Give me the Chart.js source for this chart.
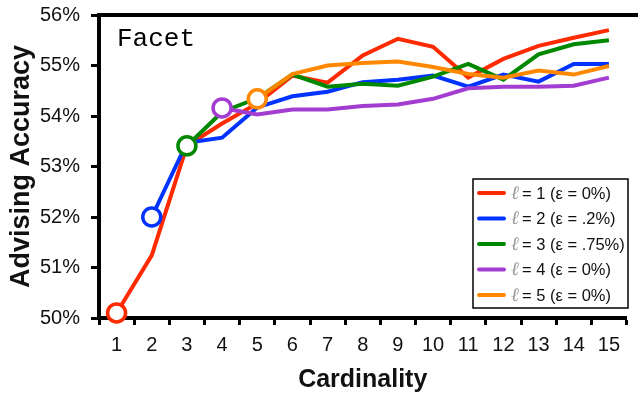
<!DOCTYPE html>
<html>
<head>
<meta charset="utf-8">
<script src="https://cdn.jsdelivr.net/npm/chart.js@4"></script>
<style>
  body { margin: 0; background: #fff; }
  #wrap { width: 639px; height: 397px; position: relative; }
</style>
</head>
<body>
<div id="wrap"><canvas id="chart"></canvas></div>
<script>
const categories = ['1','2','3','4','5','6','7','8','9','10','11','12','13','14','15'];
const yTicks = [50, 51, 52, 53, 54, 55, 56];
const seriesNames = ['ℓ = 1 (ε = 0%)', 'ℓ = 2 (ε = .2%)', 'ℓ = 3 (ε = .75%)', 'ℓ = 4 (ε = 0%)', 'ℓ = 5 (ε = 0%)'];
const l1 = [50.1, 51.24, 53.41, 53.85, 54.25, 54.8, 54.66, 55.2, 55.53, 55.37, 54.76, 55.13, 55.39, 55.55, 55.7];
const l2 = [null, 52.0, 53.47, 53.57, 54.17, 54.39, 54.48, 54.67, 54.72, 54.8, 54.58, 54.82, 54.68, 55.03, 55.03];
const l3 = [null, null, 53.41, 54.08, 54.35, 54.82, 54.58, 54.64, 54.6, 54.78, 55.03, 54.72, 55.22, 55.42, 55.5];
const l4 = [null, null, null, 54.16, 54.03, 54.13, 54.13, 54.2, 54.23, 54.34, 54.55, 54.58, 54.58, 54.6, 54.76];
const l5 = [null, null, null, null, 54.34, 54.83, 55.0, 55.05, 55.08, 54.97, 54.83, 54.76, 54.9, 54.82, 54.99];

const colors = ['#ff2a00', '#0033ff', '#008800', '#a33cd0', '#ff8800'];
const allSeries = [l1, l2, l3, l4, l5];

// only the first point of each series gets an open circle
function firstPointRadius(data) {
    const first = data.findIndex(v => v !== null);
    return data.map((v, i) => i === first ? 9 : 0);
}

const datasets = allSeries.map((data, i) => ({
    label: seriesNames[i],
    data: data,
    borderColor: colors[i],
    backgroundColor: '#fff',
    borderWidth: 4,
    pointRadius: firstPointRadius(data),
    pointHoverRadius: firstPointRadius(data),
    pointBorderWidth: 3.5,
    pointBackgroundColor: '#fff',
    pointBorderColor: colors[i],
    tension: 0,
    clip: false,
    order: 5 - i
}));

const frameAndLegend = {
    id: 'frameAndLegend',
    afterDraw(chart) {
        const ctx = chart.ctx;
        const area = chart.chartArea;
        ctx.save();
        // top frame line
        ctx.strokeStyle = '#000';
        ctx.lineWidth = 4;
        ctx.beginPath();
        ctx.moveTo(area.left - 2, area.top);
        ctx.lineTo(638, area.top);
        ctx.stroke();

        // "Facet" label
        ctx.fillStyle = '#000';
        ctx.font = '26px "Liberation Mono", monospace';
        ctx.textBaseline = 'alphabetic';
        ctx.textAlign = 'left';
        ctx.fillText('Facet', 117, 46);

        // legend box
        const bx = 473, by = 179, bw = 155, bh = 129;
        ctx.fillStyle = '#fff';
        ctx.fillRect(bx, by, bw, bh);
        ctx.lineWidth = 1.5;
        ctx.strokeStyle = '#000';
        ctx.strokeRect(bx, by, bw, bh);
        chart.data.datasets.forEach((ds, i) => {
            const y = 193 + i * 25.5;
            ctx.strokeStyle = ds.borderColor;
            ctx.lineWidth = 4;
            ctx.lineCap = 'round';
            ctx.beginPath();
            ctx.moveTo(479, y);
            ctx.lineTo(504, y);
            ctx.stroke();
            ctx.textBaseline = 'middle';
            ctx.fillStyle = '#999';
            ctx.font = 'italic 19px "DejaVu Serif", serif';
            ctx.fillText(ds.label.charAt(0), 511, y + 1);
            ctx.fillStyle = '#111';
            ctx.font = '16.5px "Liberation Sans", Arial, sans-serif';
            ctx.fillText(ds.label.slice(1).trim(), 522, y + 1);
        });
        ctx.restore();
    }
};

new Chart(document.getElementById('chart'), {
    type: 'line',
    data: { labels: categories, datasets: datasets },
    options: {
        responsive: true,
        maintainAspectRatio: false,
        animation: false,
        layout: { padding: { top: 15, right: 0, left: 0, bottom: 0 } },
        plugins: {
            legend: { display: false },
            tooltip: { enabled: false }
        },
        scales: {
            x: {
                type: 'category',
                offset: true,
                grid: {
                    offset: true,
                    drawOnChartArea: false,
                    drawTicks: true,
                    tickLength: 7,
                    tickWidth: 3,
                    tickColor: '#000'
                },
                border: { color: '#000', width: 4 },
                ticks: {
                    color: '#111',
                    padding: 8,
                    maxRotation: 0,
                    autoSkip: false,
                    font: { family: '"Liberation Sans", Arial, sans-serif', size: 20 }
                },
                title: {
                    display: true,
                    text: 'Cardinality',
                    color: '#111',
                    padding: { top: 2, bottom: 2 },
                    font: { family: '"Liberation Sans", Arial, sans-serif', size: 25, weight: 'bold' }
                },
                afterFit(scale) {
                    scale.height = 79;
                    scale.paddingLeft = 0;
                    scale.paddingRight = 0;
                }
            },
            y: {
                min: 50,
                max: 56,
                grid: {
                    drawOnChartArea: false,
                    drawTicks: true,
                    tickLength: 8,
                    tickWidth: 3,
                    tickColor: '#000'
                },
                border: { color: '#000', width: 4 },
                afterBuildTicks(scale) { scale.ticks = yTicks.map(v => ({ value: v })); },
                ticks: {
                    color: '#111',
                    padding: 11,
                    callback: v => v + '%',
                    font: { family: '"Liberation Sans", Arial, sans-serif', size: 20 }
                },
                title: {
                    display: true,
                    text: 'Advising Accuracy',
                    color: '#111',
                    padding: { top: 5, bottom: 0 },
                    font: { family: '"Liberation Sans", Arial, sans-serif', size: 27, weight: 'bold' }
                },
                afterFit(scale) {
                    scale.width = 99;
                    scale.paddingTop = 0;
                    scale.paddingBottom = 0;
                }
            }
        }
    },
    plugins: [frameAndLegend]
});
</script>
</body>
</html>
